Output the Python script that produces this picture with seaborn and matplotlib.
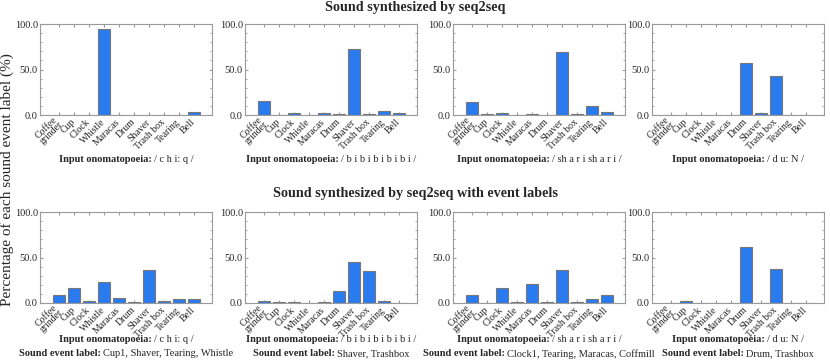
import numpy as np
import pandas as pd
import matplotlib
matplotlib.use("Agg")
import matplotlib.pyplot as plt
import seaborn as sns
from matplotlib.ticker import MultipleLocator

categories = ["Coffee\ngrinder", "Cup", "Clock", "Whistle", "Maracas",
              "Drum", "Shaver", "Trash box", "Tearing", "Bell"]

# top row: seq2seq
top_chiq = [0.5, 0.5, 0.0, 94.0, 0.5, 0.0, 0.5, 0.5, 0.0, 3.0]
top_bibi = [15.5, 0.0, 2.0, 0.0, 2.0, 1.0, 72.5, 1.0, 4.0, 2.0]
top_shari = [14.6, 1.0, 2.0, 0.0, 1.0, 0.0, 69.0, 1.0, 10.0, 3.3]
top_dun = [0.0, 0.0, 0.0, 0.0, 0.0, 56.8, 2.0, 42.5, 0.0, 0.0]

# bottom row: seq2seq with event labels
bot_chiq = [9.0, 17.0, 2.0, 23.0, 5.5, 1.0, 36.5, 2.0, 4.0, 4.0]
bot_bibi = [2.0, 1.0, 1.0, 0.0, 1.0, 13.5, 45.0, 35.0, 2.0, 0.0]
bot_shari = [8.4, 0.5, 16.8, 1.0, 21.2, 1.0, 36.6, 1.0, 4.5, 8.4]
bot_dun = [0.0, 2.0, 0.0, 0.0, 0.0, 61.0, 0.0, 37.4, 0.0, 0.0]

onomatopoeia = ["/ c h i: q /", "/ b i b i b i b i b i /",
                "/ sh a r i sh a r i /", "/ d u: N /"]
event_labels = ["Cup1, Shaver, Tearing, Whistle", "Shaver, Trashbox",
                "Clock1, Tearing, Maracas, Coffmill", "Drum, Trashbox"]

sns.set_style("ticks")
plt.rcParams["font.family"] = ["Liberation Serif", "DejaVu Serif"]

bar_color = "#2a7bef"
frame_color = "#9a9a9a"

W, H = 830, 361
fig = plt.figure(figsize=(W / 100, H / 100), dpi=100)
renderer = fig.canvas.get_renderer()

lefts = [40, 245, 453, 652]
width = 172


def panel(left_px, top_px, bottom_px, values):
    ax = fig.add_axes([left_px / W, 1 - bottom_px / H,
                       width / W, (bottom_px - top_px) / H])
    df = pd.DataFrame({"cat": categories, "pct": values})
    sns.barplot(data=df, x="cat", y="pct", color=bar_color, saturation=1,
                edgecolor="#777777", linewidth=0.8, width=0.8, ax=ax)
    ax.set_ylim(0, 100)
    ax.set_xlim(-1.25, len(categories) + 0.2)
    ax.yaxis.set_minor_locator(MultipleLocator(10))
    ax.set_yticks([0, 50, 100])
    ax.set_yticklabels(["0.0", "50.0", "100.0"], fontsize=7.5)
    ax.set_xticks(range(len(categories)))
    ax.set_xticklabels(categories, rotation=45, ha="right", va="center",
                       rotation_mode="anchor", fontsize=7, linespacing=0.75)
    ax.tick_params(axis="both", which="both", direction="in", top=True,
                   right=True, color=frame_color, pad=1.5)
    ax.tick_params(axis="both", which="major", length=2.5)
    ax.tick_params(axis="y", which="minor", length=1.5)
    ax.tick_params(axis="x", which="major", length=2, pad=4)
    for s in ax.spines.values():
        s.set_color(frame_color)
        s.set_linewidth(0.8)
    ax.set_xlabel("")
    ax.set_ylabel("")
    return ax


def label(xc_px, y_px, bold, normal, fs=7.5):
    # bold caption followed by plain text, centred as one line
    t1 = fig.text(0, 1 - y_px / H, bold, fontweight="bold", fontsize=fs,
                  va="center", ha="left")
    t2 = fig.text(0, 1 - y_px / H, normal, fontsize=fs,
                  va="center", ha="left")
    w1 = t1.get_window_extent(renderer).width
    w2 = t2.get_window_extent(renderer).width
    gap = 2.5
    x0 = xc_px - (w1 + gap + w2) / 2
    t1.set_x(x0 / W)
    t2.set_x((x0 + w1 + gap) / W)


top_vals = [top_chiq, top_bibi, top_shari, top_dun]
bot_vals = [bot_chiq, bot_bibi, bot_shari, bot_dun]

for i in range(4):
    panel(lefts[i], 24, 115, top_vals[i])
    cx = lefts[i] + width / 2
    label(cx, 159, "Input onomatopoeia:", onomatopoeia[i])

for i in range(4):
    panel(lefts[i], 212, 303, bot_vals[i])
    cx = lefts[i] + width / 2
    label(cx, 340, "Input onomatopoeia:", onomatopoeia[i])
    label(cx, 354, "Sound event label:", event_labels[i])

fig.text(0.5, 1 - 8 / H, "Sound synthesized by seq2seq",
         ha="center", va="center", fontsize=10.2, fontweight="bold")
fig.text(0.5, 1 - 193 / H, "Sound synthesized by seq2seq with event labels",
         ha="center", va="center", fontsize=10.2, fontweight="bold")
fig.text(7 / W, 1 - 180 / H, "Percentage of each sound event label (%)",
         ha="center", va="center", rotation=90, fontsize=11)

fig.savefig("out.png", dpi=100)
